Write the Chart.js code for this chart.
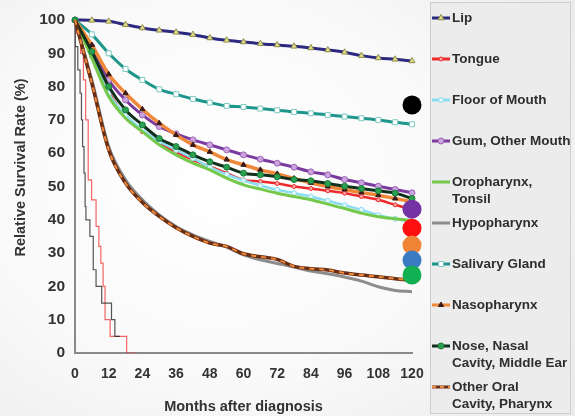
<!DOCTYPE html>
<html>
<head>
<meta charset="utf-8">
<title>Relative Survival Rate</title>
<script src="https://cdn.jsdelivr.net/npm/chart.js@4.4.1/dist/chart.umd.min.js"></script>
<style>
  html, body { margin: 0; padding: 0; }
  body {
    width: 575px; height: 416px; overflow: hidden;
    background: radial-gradient(ellipse 75% 85% at 38% 45%, #ffffff 0%, #f9f9f9 55%, #ebebeb 100%);
  }
  #wrap { position: relative; width: 575px; height: 416px; }
</style>
</head>
<body>
<div id="wrap"><canvas id="chartCanvas" width="575" height="416"></canvas></div>
<script>
const FONT = '"Liberation Sans", Arial, sans-serif';

// months after diagnosis (markers every 6 months)
const months = [0, 6, 12, 18, 24, 30, 36, 42, 48, 54, 60, 66, 72, 78, 84, 90, 96, 102, 108, 114, 120];

const lip          = [100, 99.9, 99.6, 98.6, 97.6, 96.9, 96.3, 95.6, 94.6, 93.9, 93.4, 92.9, 92.5, 92.1, 91.6, 91.0, 90.3, 89.3, 88.6, 88.2, 87.7];
const tongue       = [100, 89, 78.5, 71, 66.5, 63, 60.4, 58, 56, 54, 52, 51.5, 50.9, 50, 49.4, 48.7, 48, 47, 46, 44.5, 43];
const floorOfMouth = [100, 89.5, 78, 71.5, 67, 63.5, 61, 58.5, 55.8, 53.6, 51.8, 50.3, 49, 48, 47, 45.7, 44.4, 43, 41.4, 40.3, 39.2];
const gum          = [100, 92, 82, 76, 71.5, 68, 65.8, 64, 62.5, 61, 59.5, 58.2, 57, 55.8, 54.4, 53.5, 52.1, 51.1, 50.1, 49.1, 48.1];
const oropharynx   = [100, 88.5, 77, 70.5, 66.5, 62.5, 59.5, 57, 55, 52.5, 50.5, 49.2, 48, 47, 46, 44.7, 43.4, 42, 40.9, 40.3, 39.8];
const hypopharynx  = [100, 82, 62, 52, 46, 41.5, 38, 35.5, 33.5, 31.8, 29.5, 28, 26.9, 25.8, 24.6, 23.8, 22.8, 21.6, 19.9, 18.8, 18.4];
const salivary     = [100, 95.7, 90, 85.3, 82, 79.2, 77.7, 76.3, 75.2, 74.2, 73.9, 73.4, 72.9, 72.4, 72, 71.5, 71, 70.5, 70, 69.3, 68.7];
const nasopharynx  = [100, 92.5, 83.7, 78, 73.2, 69, 65.5, 62.5, 60.4, 58.1, 56.5, 55, 53.8, 52.4, 51.1, 50, 49.1, 48.2, 47.4, 46.4, 45.4];
const nose         = [100, 90.5, 80, 73, 68.5, 64.4, 62, 59.5, 57.4, 55.8, 54, 53.5, 52.9, 52.1, 51.7, 50.9, 50.1, 49.4, 48.7, 48, 46.4];
const otherOral    = [100, 81, 61, 51, 45.2, 41, 37.6, 35, 33, 32, 29.8, 28.9, 28.1, 26, 25.3, 24.9, 24, 23.4, 22.9, 22.3, 21.8];

const seriesNames = ['Lip', 'Tongue', 'Floor of Mouth', 'Gum, Other Mouth', 'Oropharynx,\nTonsil',
  'Hypopharynx', 'Salivary Gland', 'Nasopharynx', 'Nose, Nasal\nCavity, Middle Ear', 'Other Oral\nCavity, Pharynx'];
const seriesValues = [lip, tongue, floorOfMouth, gum, oropharynx, hypopharynx, salivary, nasopharynx, nose, otherOral];

// thin step curves close to the y axis
const stepMonthsBlack = [0, 1, 1.8, 2.3, 2.7, 3.2, 3.6, 3.9, 5.3, 6.5, 7.5, 9.5, 13, 14.2, 14.8, 16];
const stepValuesBlack = [100, 92, 85, 78, 70, 62, 54, 44, 40, 35, 25, 20, 15, 10, 5, 5];
const stepMonthsRed   = [0, 2, 3, 3.8, 4.7, 5.9, 7.5, 8.5, 9.2, 10, 10.7, 12.5, 18.4, 22];
const stepValuesRed   = [100, 96, 90, 82, 70, 52, 46, 38, 32, 27, 20, 10, 5, 0];

// big coloured dots at 120 months
const dotValues = [74.5, 43.2, 37.5, 32.4, 27.9, 23.4];
const dotColors = ['#000000', '#7432a4', '#ff1010', '#f08538', '#3a7bc2', '#12b052'];

const styles = [
  { line: '#2b2a80', width: 3,   point: 'triangle', r: 3.5, fill: '#e2df8c', edge: '#8f8b48' },
  { line: '#ee2b2b', width: 2.5, point: 'circle',   r: 2,   fill: '#f7a6a6', edge: '#ee2b2b' },
  { line: '#8adcf0', width: 2.5, point: 'circle',   r: 2.5, fill: '#e0f6fb', edge: '#8adcf0' },
  { line: '#7a3a9e', width: 3,   point: 'circle',   r: 3,   fill: '#cba4dd', edge: '#9a62b8' },
  { line: '#74c84a', width: 3,   point: 'circle',   r: 0 },
  { line: '#8c8c8c', width: 3,   point: 'circle',   r: 0 },
  { line: '#1f968c', width: 3,   point: 'rect',     r: 3.5, fill: '#ffffff', edge: '#7fc8c0' },
  { line: '#f0883a', width: 3.5, point: 'triangle', r: 3,   fill: '#3a1a1a', edge: '#3a1a1a' },
  { line: '#10301c', width: 3,   point: 'circle',   r: 3,   fill: '#2aa050', edge: '#1a7a3a' },
  { line: '#6a2e14', width: 3.5, point: 'circle',   r: 0, dash: '#f0883a' }
];

function toPoints(xs, ys) {
  return ys.map((y, i) => ({ x: xs[i], y: y }));
}

function buildDatasets() {
  const sets = [];
  sets.push({
    label: 'dots',
    data: dotValues.map(v => ({ x: 120, y: v })),
    showLine: false,
    pointRadius: 9.5,
    pointBackgroundColor: dotColors,
    pointBorderWidth: 0,
    order: 0,
    clip: false
  });
  seriesValues.forEach((vals, i) => {
    const s = styles[i];
    const ds = {
      label: seriesNames[i],
      data: toPoints(months, vals),
      borderColor: s.line,
      borderWidth: s.width,
      pointStyle: s.point,
      pointRadius: s.r,
      pointBackgroundColor: s.fill,
      pointBorderColor: s.edge,
      pointBorderWidth: 1,
      cubicInterpolationMode: 'monotone',
      order: 20 - i,
      clip: false
    };
    sets.push(ds);
    if (s.dash) {
      sets.push(Object.assign({}, ds, {
        label: seriesNames[i] + ' (dash)',
        borderColor: s.dash,
        borderWidth: 2,
        borderDash: [5, 5],
        pointRadius: 0,
        order: 19 - i
      }));
    }
  });
  sets.push({
    label: 'step black',
    data: toPoints(stepMonthsBlack, stepValuesBlack),
    stepped: 'after',
    borderColor: 'rgba(30,30,30,0.75)',
    borderWidth: 1.2,
    pointRadius: 0,
    order: 30
  });
  sets.push({
    label: 'step red',
    data: toPoints(stepMonthsRed, stepValuesRed),
    stepped: 'after',
    borderColor: 'rgba(240,50,50,0.75)',
    borderWidth: 1.2,
    pointRadius: 0,
    order: 31
  });
  return sets;
}

// legend box on the right, drawn on the canvas
const sideLegend = {
  id: 'sideLegend',
  afterDraw(chart) {
    const ctx = chart.ctx;
    ctx.save();
    ctx.fillStyle = '#ececec';
    ctx.strokeStyle = '#cdcdcd';
    ctx.lineWidth = 1;
    ctx.fillRect(430.5, 2.5, 140, 411);
    ctx.strokeRect(430.5, 2.5, 140, 411);

    seriesNames.forEach((name, i) => {
      const s = styles[i];
      const y = 18 + 41 * i;
      ctx.setLineDash([]);
      ctx.strokeStyle = s.line;
      ctx.lineWidth = 3;
      ctx.beginPath();
      ctx.moveTo(432, y);
      ctx.lineTo(450, y);
      ctx.stroke();
      if (s.dash) {
        ctx.setLineDash([4, 4]);
        ctx.strokeStyle = s.dash;
        ctx.lineWidth = 2;
        ctx.beginPath();
        ctx.moveTo(432, y);
        ctx.lineTo(450, y);
        ctx.stroke();
        ctx.setLineDash([]);
      }
      if (s.r > 0) {
        ctx.fillStyle = s.fill;
        ctx.strokeStyle = s.edge;
        ctx.lineWidth = 1;
        Chart.helpers.drawPoint(ctx, { pointStyle: s.point, radius: s.r, rotation: 0, borderWidth: 1 }, 441, y);
      }
      ctx.fillStyle = '#2e2e2e';
      ctx.font = 'bold 13.5px ' + FONT;
      ctx.textBaseline = 'middle';
      ctx.textAlign = 'left';
      name.split('\n').forEach((line, k) => ctx.fillText(line, 452, y + k * 17));
    });

    // y axis title, sits a bit above the axis middle
    ctx.translate(21, 167.5);
    ctx.rotate(-Math.PI / 2);
    ctx.font = 'bold 14.5px ' + FONT;
    ctx.fillStyle = '#333333';
    ctx.textAlign = 'center';
    ctx.fillText('Relative Survival Rate (%)', 0, 0);
    ctx.restore();
  }
};

function createChart() {
  const ctx = document.getElementById('chartCanvas').getContext('2d');
  return new Chart(ctx, {
    type: 'line',
    data: { datasets: buildDatasets() },
    options: {
      responsive: false,
      animation: false,
      layout: { padding: { left: 0, right: 163, top: 20, bottom: 0 } },
      plugins: {
        legend: { display: false },
        tooltip: { enabled: false }
      },
      scales: {
        x: {
          type: 'linear',
          min: 0,
          max: 120,
          ticks: { stepSize: 12, color: '#333333', padding: 13, font: { family: FONT, size: 14, weight: 'bold' } },
          grid: { display: false, drawTicks: false },
          border: { display: true, color: '#8a8a8a', width: 2 },
          title: {
            display: true,
            text: 'Months after diagnosis',
            color: '#333333',
            font: { family: FONT, size: 14.5, weight: 'bold' },
            padding: { top: 0, bottom: 0 }
          },
          afterFit: scale => { scale.height = 63; }
        },
        y: {
          min: 0,
          max: 100,
          ticks: { stepSize: 10, color: '#333333', padding: 10, font: { family: FONT, size: 15.5, weight: 'bold' } },
          grid: { display: false, drawTicks: false },
          border: { display: true, color: '#8a8a8a', width: 2 },
          afterFit: scale => { scale.width = 75; }
        }
      }
    },
    plugins: [sideLegend]
  });
}

document.addEventListener('DOMContentLoaded', () => {
  createChart();
});
</script>
</body>
</html>
